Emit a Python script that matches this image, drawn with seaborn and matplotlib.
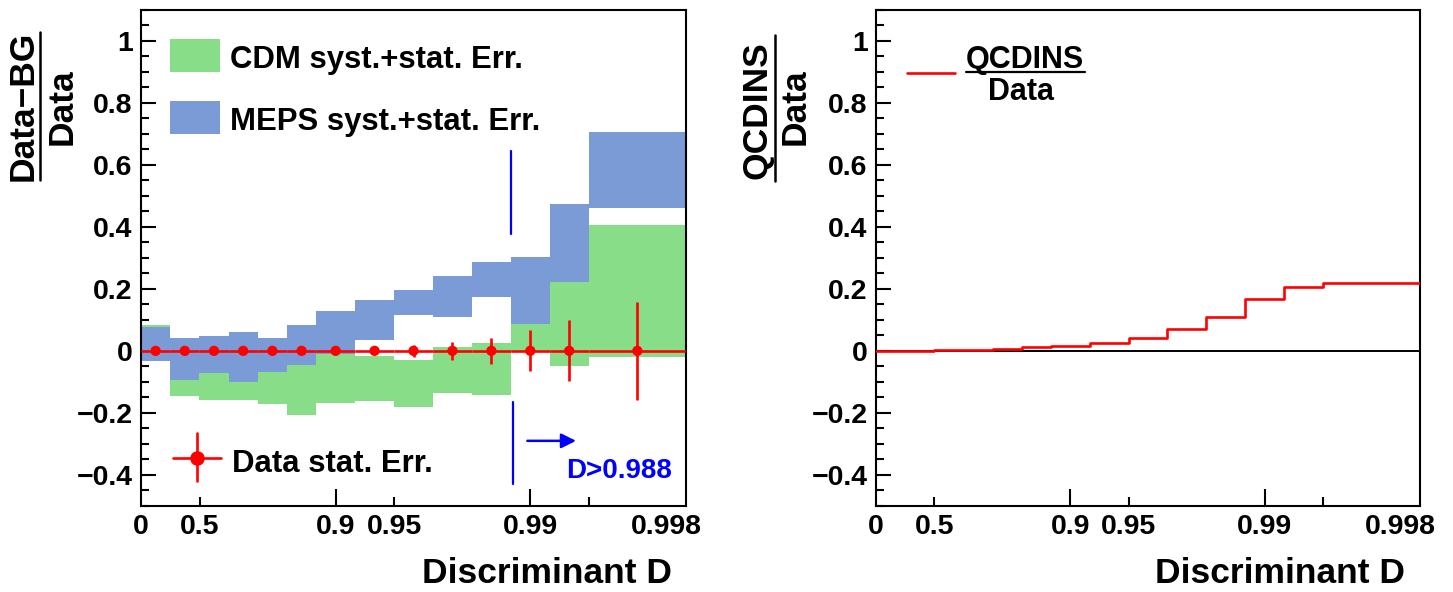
import numpy as np
import pandas as pd
import matplotlib
matplotlib.use("Agg")
import matplotlib.pyplot as plt
import seaborn as sns
from matplotlib.lines import Line2D
from matplotlib.patches import Rectangle
from matplotlib.ticker import FixedLocator, FixedFormatter

# ---------------- data ----------------
# bin edges in u = -log10(1 - D)
bin_edges_u = [0.0, 0.15, 0.30, 0.45, 0.60, 0.75, 0.90, 1.10, 1.30, 1.50, 1.70, 1.90, 2.10, 2.30, 2.80]
cdm_lo = [-0.030, -0.147, -0.159, -0.159, -0.170, -0.206, -0.167, -0.161, -0.180, -0.136, -0.141, -0.005, -0.048, -0.020]
cdm_hi = [0.083, 0.000, 0.000, 0.000, 0.000, 0.000, -0.011, -0.016, -0.030, 0.013, 0.026, 0.086, 0.223, 0.405]
meps_lo = [-0.034, -0.094, -0.070, -0.102, -0.068, -0.046, -0.011, 0.034, 0.115, 0.108, 0.172, 0.086, 0.223, 0.460]
meps_hi = [0.077, 0.040, 0.048, 0.062, 0.043, 0.084, 0.129, 0.165, 0.197, 0.242, 0.285, 0.301, 0.473, 0.704]
data_val = [0.0] * 14
data_err = [0.002, 0.002, 0.003, 0.003, 0.004, 0.005, 0.007, 0.011, 0.019, 0.030, 0.043, 0.066, 0.098, 0.157]
qcdins_ratio = [0.000, 0.001, 0.002, 0.003, 0.006, 0.011, 0.014, 0.025, 0.041, 0.069, 0.110, 0.167, 0.206, 0.218]

tick_D_major = [0, 0.9, 0.99, 0.998]
tick_D_major_labels = ["0", "0.9", "0.99", "0.998"]
tick_D_minor = [0.5, 0.95, 0.995]
tick_D_minor_labels = ["0.5", "0.95", ""]
y_ticks = [-0.4, -0.2, 0.0, 0.2, 0.4, 0.6, 0.8, 1.0]
y_tick_labels = ["\u22120.4", "\u22120.2", "0", "0.2", "0.4", "0.6", "0.8", "1"]
cut_D_label = "D>0.988"
cut_u = 1.90

# ---------------- style ----------------
sns.set_theme(style="ticks")
plt.rcParams["font.family"] = ["Liberation Sans", "DejaVu Sans"]
plt.rcParams["font.weight"] = "bold"
plt.rcParams["axes.linewidth"] = 1.5
plt.rcParams["text.color"] = "black"
plt.rcParams["axes.labelcolor"] = "black"
plt.rcParams["xtick.color"] = "black"
plt.rcParams["ytick.color"] = "black"
plt.rcParams["axes.edgecolor"] = "black"

W, H = 1453, 592
GREEN = "#88de88"
BLUE = "#7a9bd6"

def fx(px):
    return px / W

def fy(py):
    return 1 - py / H

def u_of(D):
    return -np.log10(1.0 - np.asarray(D, dtype=float))

edges = np.array(bin_edges_u)
centers = 0.5 * (edges[:-1] + edges[1:])
halfw = 0.5 * np.diff(edges)

fig = plt.figure(figsize=(W / 100, H / 100), dpi=100)
ax1 = fig.add_axes([fx(141), fy(506), 545 / W, 496.5 / H])
ax2 = fig.add_axes([fx(876), fy(506), 544 / W, 496.5 / H])

TICK_FS = 20.5

def style_axis(ax, xlab_x):
    ax.set_xlim(0, 2.8)
    ax.set_ylim(-0.5, 1.1)
    for s in ax.spines.values():
        s.set_visible(True)
        s.set_color("black")
        s.set_linewidth(1.5)
    ax.yaxis.set_major_locator(FixedLocator(y_ticks))
    ax.yaxis.set_major_formatter(FixedFormatter(y_tick_labels))
    ax.yaxis.set_minor_locator(FixedLocator(np.round(np.arange(-0.5, 1.1001, 0.05), 3)))
    ax.xaxis.set_major_locator(FixedLocator(u_of(tick_D_major).tolist()))
    ax.xaxis.set_major_formatter(FixedFormatter(tick_D_major_labels))
    ax.xaxis.set_minor_locator(FixedLocator(u_of(tick_D_minor)))
    ax.xaxis.set_minor_formatter(FixedFormatter(tick_D_minor_labels))
    ax.tick_params(axis="y", which="major", direction="in", length=11, width=1.5,
                   labelsize=TICK_FS, pad=6, left=True, right=False, colors="black")
    ax.tick_params(axis="y", which="minor", direction="in", length=6, width=1.5,
                   left=True, right=False, colors="black")
    ax.tick_params(axis="x", which="major", direction="in", length=12, width=1.5,
                   labelsize=TICK_FS, pad=6, bottom=True, top=False, colors="black")
    ax.tick_params(axis="x", which="minor", direction="in", length=6.5, width=1.5,
                   labelsize=TICK_FS, pad=6, bottom=True, top=False, colors="black")
    for lab in ax.get_xticklabels(which="both") + ax.get_yticklabels():
        lab.set_fontweight("bold")
    majticks = ax.xaxis.get_major_ticks()
    majticks[0].tick1line.set_visible(False)
    majticks[-1].tick1line.set_visible(False)
    ax.grid(False)
    ax.set_facecolor("white")

def set_xlabel(ax, xlab_x):
    ax.set_xlabel("Discriminant D", fontsize=25.5, fontweight="bold", color="black")
    ax.set_ylabel("")
    ax.xaxis.set_label_coords(xlab_x, -0.155)
    ax.xaxis.label.set_ha("right")
    ax.xaxis.label.set_va("baseline")

style_axis(ax1, 0.974)
style_axis(ax2, 0.972)

# ---------------- left panel ----------------
ax1.fill_between(edges, np.r_[cdm_lo, cdm_lo[-1]], np.r_[cdm_hi, cdm_hi[-1]],
                 step="post", color=GREEN, lw=0, zorder=1)
ax1.fill_between(edges, np.r_[meps_lo, meps_lo[-1]], np.r_[meps_hi, meps_hi[-1]],
                 step="post", color=BLUE, lw=0, zorder=2)
ax1.errorbar(centers, data_val, xerr=halfw, yerr=data_err, fmt="none",
             ecolor="red", elinewidth=1.9, capsize=0, zorder=3)
sns.scatterplot(x=centers, y=data_val, ax=ax1, color="red", s=55,
                edgecolor="none", linewidth=0, zorder=4, legend=False)
ax1.set_xlim(0, 2.8)
ax1.set_ylim(-0.5, 1.1)
set_xlabel(ax1, 0.974)

# cut lines and arrow
ax1.plot([cut_u, cut_u], [0.377, 0.645], color="blue", lw=1.6, zorder=5)
ax1.plot([cut_u + 0.01, cut_u + 0.01], [-0.164, -0.429], color="blue", lw=1.6, zorder=5)
ax1.annotate("", xy=(2.235, -0.29), xytext=(1.985, -0.29),
             arrowprops=dict(arrowstyle="-|>", color="blue", lw=1.8, mutation_scale=22,
                             shrinkA=0, shrinkB=0), zorder=5)
ax1.text(2.185, -0.410, cut_D_label, color="blue", fontsize=20, fontweight="bold",
         ha="left", va="baseline", zorder=5)

# left legend (manual, ROOT style)
fig.patches.append(Rectangle((fx(170), fy(72)), 50 / W, 33 / H, transform=fig.transFigure,
                             facecolor=GREEN, edgecolor="none", zorder=10))
fig.patches.append(Rectangle((fx(170), fy(134)), 50 / W, 33 / H, transform=fig.transFigure,
                             facecolor=BLUE, edgecolor="none", zorder=10))
fig.text(fx(230), fy(68), "CDM syst.+stat. Err.", fontsize=22.4, fontweight="bold",
         ha="left", va="baseline", color="black")
fig.text(fx(230), fy(130), "MEPS syst.+stat. Err.", fontsize=22.4, fontweight="bold",
         ha="left", va="baseline", color="black")
fig.lines.append(Line2D([fx(173), fx(221)], [fy(458), fy(458)], transform=fig.transFigure,
                        color="red", lw=1.9))
fig.lines.append(Line2D([fx(197), fx(197)], [fy(433), fy(481)], transform=fig.transFigure,
                        color="red", lw=1.9))
fig.lines.append(Line2D([fx(197)], [fy(458)], transform=fig.transFigure, color="red",
                        marker="o", markersize=10.5, markeredgewidth=0, linestyle="none"))
fig.text(fx(232), fy(472), "Data stat. Err.", fontsize=22.4, fontweight="bold",
         ha="left", va="baseline", color="black")

# left y label as fraction
fig.text(fx(23), fy(106), "Data\u2212BG", rotation=90, fontsize=25.5, fontweight="bold",
         ha="center", va="center", color="black")
fig.lines.append(Line2D([fx(40), fx(40)], [fy(32), fy(180)], transform=fig.transFigure,
                        color="black", lw=1.8))
fig.text(fx(62), fy(107), "Data", rotation=90, fontsize=25.5, fontweight="bold",
         ha="center", va="center", color="black")

# ---------------- right panel ----------------
ax2.axhline(0, color="black", lw=1.4, zorder=2)
step_df = pd.DataFrame({"u": edges, "ratio": np.r_[qcdins_ratio, qcdins_ratio[-1]]})
sns.lineplot(data=step_df, x="u", y="ratio", ax=ax2, color="red", lw=1.9,
             drawstyle="steps-post", zorder=3, legend=False)
ax2.set_xlim(0, 2.8)
ax2.set_ylim(-0.5, 1.1)
set_xlabel(ax2, 0.972)

# right legend
fig.lines.append(Line2D([fx(907), fx(955)], [fy(73), fy(73)], transform=fig.transFigure,
                        color="red", lw=1.9))
fig.text(fx(1025), fy(68), "QCDINS", fontsize=22, fontweight="bold", ha="center",
         va="baseline", color="black")
fig.lines.append(Line2D([fx(966), fx(1085)], [fy(71.5), fy(71.5)], transform=fig.transFigure,
                        color="black", lw=1.6))
fig.text(fx(1021), fy(100), "Data", fontsize=22, fontweight="bold", ha="center",
         va="baseline", color="black")

# right y label as fraction
fig.text(fx(757), fy(110), "QCDINS", rotation=90, fontsize=25.5, fontweight="bold",
         ha="center", va="center", color="black")
fig.lines.append(Line2D([fx(775), fx(775)], [fy(35), fy(181)], transform=fig.transFigure,
                        color="black", lw=1.8))
fig.text(fx(795), fy(107), "Data", rotation=90, fontsize=25.5, fontweight="bold",
         ha="center", va="center", color="black")

fig.savefig("out.png", dpi=100, facecolor="white")
